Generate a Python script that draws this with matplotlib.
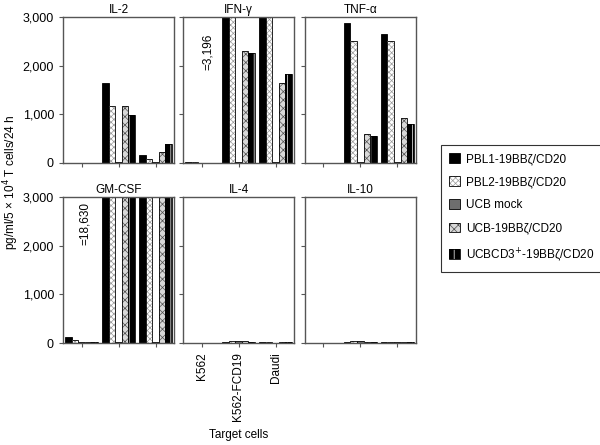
import matplotlib.pyplot as plt
import numpy as np

plt.rcParams['font.family'] = ['Liberation Sans', 'DejaVu Sans']
plt.rcParams['hatch.linewidth'] = 0.5

# target cells and effector groups
targets = ['K562', 'K562-FCD19', 'Daudi']
groups = ['PBL1-19BBζ/CD20', 'PBL2-19BBζ/CD20', 'UCB mock',
          'UCB-19BBζ/CD20', 'UCBCD3$^{+}$-19BBζ/CD20']

# values per cytokine: rows = groups, columns = targets (pg/ml)
il2 = [[0, 1650, 160], [0, 1170, 80], [0, 10, 10], [0, 1170, 230], [0, 980, 380]]
ifng = [[20, 3196, 3300], [10, 3200, 3200], [0, 10, 15], [0, 2300, 1650], [0, 2260, 1830]]
tnfa = [[0, 2870, 2650], [0, 2500, 2500], [0, 10, 10], [0, 600, 920], [0, 550, 800]]
gmcsf = [[130, 18630, 12000], [60, 12000, 12000], [15, 15, 30], [15, 12000, 12000], [15, 12000, 12000]]
il4 = [[0, 30, 15], [0, 40, 15], [0, 40, 10], [0, 35, 15], [0, 30, 15]]
il10 = [[0, 30, 15], [0, 40, 15], [0, 45, 15], [0, 30, 15], [0, 25, 15]]

panels = [('IL-2', il2), ('IFN-γ', ifng), ('TNF-α', tnfa),
          ('GM-CSF', gmcsf), ('IL-4', il4), ('IL-10', il10)]

fig = plt.figure(figsize=(6, 4.45), dpi=100)
lefts = [0.105, 0.305, 0.508]
bottoms = [0.634, 0.229]
w, h = 0.185, 0.328
spine_col = '#555555'

bw = 0.18
x = np.arange(len(targets))
handles = []

for k, (name, data) in enumerate(panels):
    ax = fig.add_axes([lefts[k % 3], bottoms[k // 3], w, h])
    for i in range(5):
        pos = x + (i - 2) * bw
        vals = data[i]
        if i == 0:
            b = ax.bar(pos, vals, bw, color='black', edgecolor='black', linewidth=0.6)
            hd = b
        elif i == 1:
            b = ax.bar(pos, vals, bw, color='white', edgecolor='#9a9a9a', hatch='xxxxxx', linewidth=0)
            b2 = ax.bar(pos, vals, bw, fill=False, edgecolor='black', linewidth=0.6)
            hd = (b, b2)
        elif i == 2:
            b = ax.bar(pos, vals, bw, color='#6e6e6e', edgecolor='black', linewidth=0.6)
            hd = b
        elif i == 3:
            b = ax.bar(pos, vals, bw, color='#d8d8d8', edgecolor='#505050', hatch='xxxx', linewidth=0)
            b2 = ax.bar(pos, vals, bw, fill=False, edgecolor='black', linewidth=0.6)
            hd = (b, b2)
        else:
            b = ax.bar(pos, vals, bw, color='black', edgecolor='white', hatch='||', linewidth=0)
            b2 = ax.bar(pos, vals, bw, fill=False, edgecolor='black', linewidth=0.6)
            hd = (b, b2)
        if k == 0:
            handles.append(hd)
    ax.set_xlim(-0.5, 2.5)
    ax.set_ylim(0, 3000)
    ax.set_yticks([0, 1000, 2000, 3000])
    ax.set_xticks(x)
    for s in ax.spines.values():
        s.set_color(spine_col)
        s.set_linewidth(1.0)
    ax.tick_params(color=spine_col, length=3, width=0.8, labelsize=9)
    ax.set_title(name, fontsize=8.5, pad=3)
    if k % 3 == 0:
        ax.set_yticklabels(['0', '1,000', '2,000', '3,000'])
    else:
        ax.set_yticklabels([])
    if k == 4:
        ax.set_xticklabels(targets, rotation=90, fontsize=8.5)
        ax.set_xlabel('Target cells', fontsize=8.5, labelpad=6)
    else:
        ax.set_xticklabels([])
    if name == 'IFN-γ':
        ax.text(0.17, 2280, '=3,196', rotation=90, ha='center', va='center', fontsize=8.5)
    if name == 'GM-CSF':
        ax.text(0.1, 2450, '=18,630', rotation=90, ha='center', va='center', fontsize=8.5)

fig.text(0.018, 0.59, 'pg/ml/5 × 10$^4$ T cells/24 h', rotation=90,
         ha='center', va='center', fontsize=8.5)

leg = fig.legend(handles, groups, loc='upper left', bbox_to_anchor=(0.725, 0.688),
                 fontsize=8.5, frameon=True, fancybox=False, edgecolor='black',
                 handlelength=0.9, handleheight=0.9, labelspacing=0.95,
                 borderpad=0.7, handletextpad=0.5)
leg.get_frame().set_linewidth(0.8)

fig.savefig('out.png', dpi=100)
